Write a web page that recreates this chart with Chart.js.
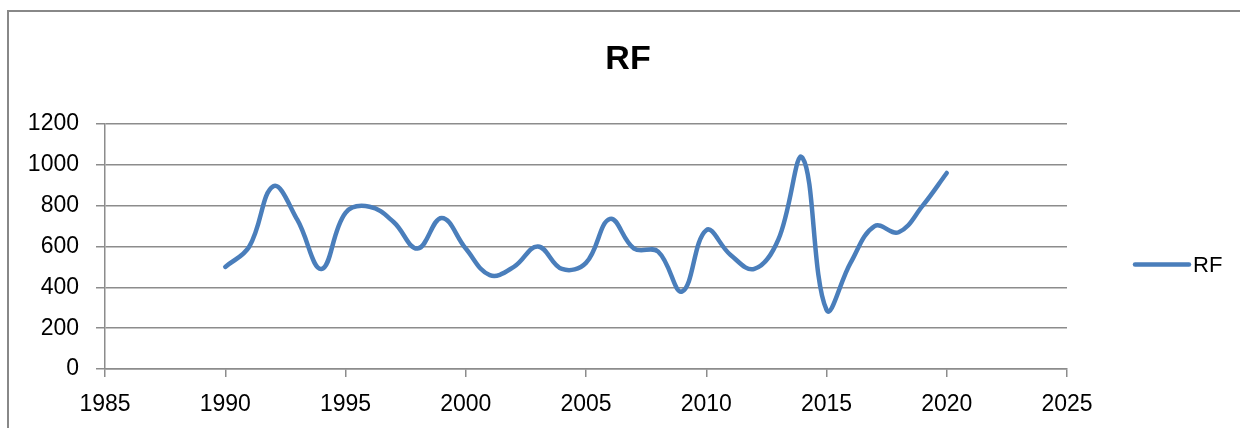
<!DOCTYPE html>
<html>
<head>
<meta charset="utf-8">
<script src="https://cdn.jsdelivr.net/npm/chart.js@4.4.1/dist/chart.umd.min.js"></script>
<style>
  html, body { margin: 0; padding: 0; background: #ffffff; }
  #wrap { width: 1240px; height: 428px; }
</style>
</head>
<body>
<div id="wrap"><canvas id="chart" width="1240" height="428"></canvas></div>
<script>
// Annual RF values, 1990-2020
const years = [1990, 1991, 1992, 1993, 1994, 1995, 1996, 1997, 1998, 1999, 2000,
               2001, 2002, 2003, 2004, 2005, 2006, 2007, 2008, 2009, 2010,
               2011, 2012, 2013, 2014, 2015, 2016, 2017, 2018, 2019, 2020];
const rf = [500, 600, 895, 730, 490, 765, 795, 720, 590, 740, 590,
            460, 500, 600, 490, 520, 735, 590, 575, 380, 680,
            560, 490, 635, 1035, 290, 520, 700, 670, 800, 960];
const xTicks = [1985, 1990, 1995, 2000, 2005, 2010, 2015, 2020, 2025];
const yTicks = [0, 200, 400, 600, 800, 1000, 1200];
const seriesName = 'RF';
const chartTitle = 'RF';

const lineColor = '#4a7ebb';
const gridColor = '#8c8c8c';
const textFont = '"Liberation Sans", Arial, sans-serif';

// Outer frame, centred title and a right-hand legend entry
const decorations = {
  id: 'decorations',
  beforeDraw(chart) {
    const ctx = chart.ctx;
    ctx.save();
    ctx.fillStyle = '#ffffff';
    ctx.fillRect(0, 0, chart.width, chart.height);
    ctx.strokeStyle = '#888888';
    ctx.lineWidth = 2;
    ctx.strokeRect(8, 11, chart.width + 20, chart.height + 20);
    ctx.restore();
  },
  afterDraw(chart) {
    const ctx = chart.ctx;
    ctx.save();
    ctx.fillStyle = '#000000';
    ctx.font = 'bold 34px ' + textFont;
    ctx.textAlign = 'center';
    ctx.textBaseline = 'middle';
    ctx.fillText(chartTitle, 628, 60);

    const ds = chart.data.datasets[0];
    const ly = (chart.chartArea.top + chart.chartArea.bottom) / 2 + 18;
    ctx.strokeStyle = ds.borderColor;
    ctx.lineWidth = ds.borderWidth;
    ctx.lineCap = 'round';
    ctx.beginPath();
    ctx.moveTo(1135, ly);
    ctx.lineTo(1189, ly);
    ctx.stroke();
    ctx.font = '22px ' + textFont;
    ctx.textAlign = 'left';
    ctx.fillText(ds.label, 1193, ly + 1);
    ctx.restore();
  }
};

new Chart(document.getElementById('chart'), {
  type: 'line',
  data: {
    datasets: [{
      label: seriesName,
      data: years.map((y, i) => ({ x: y, y: rf[i] })),
      borderColor: lineColor,
      backgroundColor: lineColor,
      borderWidth: 4.5,
      borderCapStyle: 'round',
      borderJoinStyle: 'round',
      pointRadius: 0,
      tension: 0.4,
      fill: false
    }]
  },
  options: {
    responsive: false,
    animation: false,
    layout: { padding: { top: 124, right: 173, bottom: 0, left: 0 } },
    plugins: {
      legend: { display: false },
      title: { display: false },
      tooltip: { enabled: false }
    },
    scales: {
      x: {
        type: 'linear',
        min: xTicks[0],
        max: xTicks[xTicks.length - 1],
        afterBuildTicks(scale) { scale.ticks = xTicks.map(v => ({ value: v })); },
        afterFit(scale) { scale.height = 59; },
        grid: { drawOnChartArea: false, drawTicks: true, tickLength: 8, color: gridColor, lineWidth: 1.5 },
        border: { display: true, color: gridColor, width: 1.5 },
        ticks: {
          color: '#000000',
          font: { family: textFont, size: 23 },
          padding: 14,
          maxRotation: 0,
          autoSkip: false,
          callback: v => String(v)
        }
      },
      y: {
        min: yTicks[0],
        max: yTicks[yTicks.length - 1],
        afterBuildTicks(scale) { scale.ticks = yTicks.map(v => ({ value: v })); },
        afterFit(scale) { scale.width = 105; },
        grid: { drawTicks: true, tickLength: 9, color: gridColor, lineWidth: 1.5 },
        border: { display: true, color: gridColor, width: 1.5 },
        ticks: {
          color: '#000000',
          font: { family: textFont, size: 23 },
          padding: 17,
          autoSkip: false,
          callback: v => String(v)
        }
      }
    }
  },
  plugins: [decorations]
});
</script>
</body>
</html>
